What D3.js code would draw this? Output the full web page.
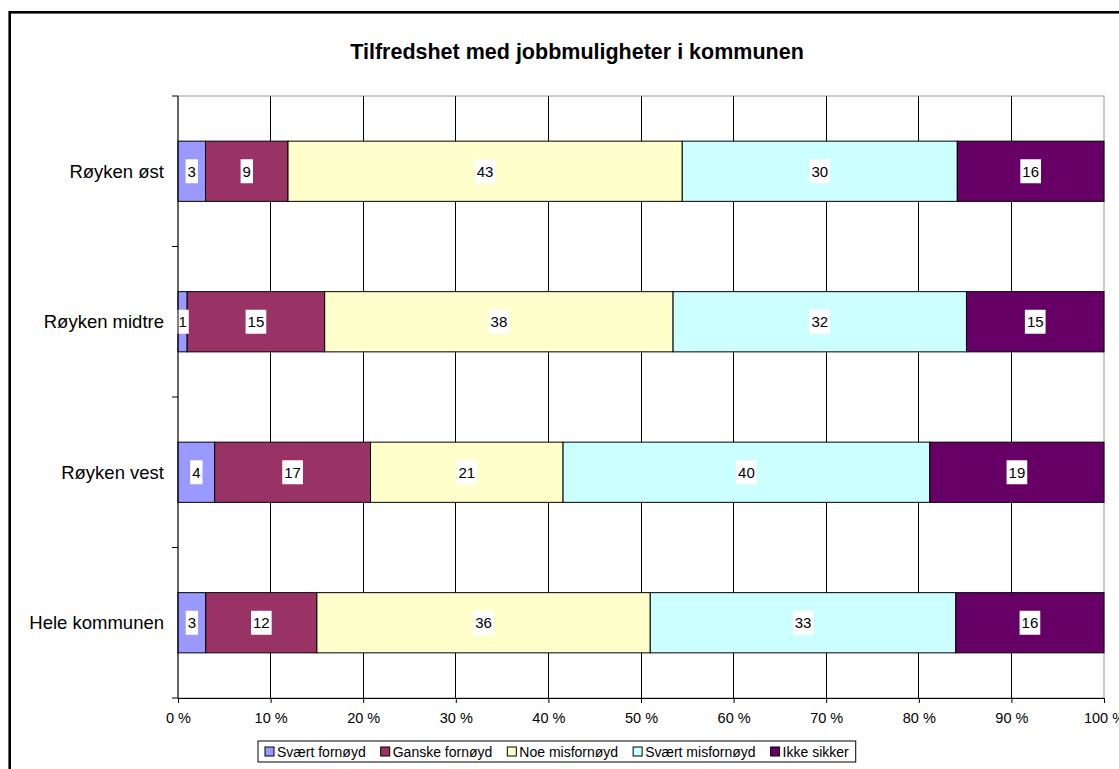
<!DOCTYPE html>
<html>
<head>
<meta charset="utf-8">
<script src="https://cdn.jsdelivr.net/npm/d3@7"></script>
<style>
  body { margin: 0; background: #fff; }
  text { font-family: Arial, "Liberation Sans", sans-serif; }
</style>
</head>
<body>
<svg width="1119" height="769"></svg>
<script>
// Data
const categories = ["Røyken øst", "Røyken midtre", "Røyken vest", "Hele kommunen"];
const seriesNames = ["Svært fornøyd", "Ganske fornøyd", "Noe misfornøyd", "Svært misfornøyd", "Ikke sikker"];
const seriesColors = ["#9999FF", "#993366", "#FFFFCC", "#CCFFFF", "#660066"];
const svaertFornoyd = [3, 1, 4, 3];
const ganskeFornoyd = [9, 15, 17, 12];
const noeMisfornoyd = [43, 38, 21, 36];
const svaertMisfornoyd = [30, 32, 40, 33];
const ikkeSikker = [16, 15, 19, 16];
const xTicks = [0, 0.1, 0.2, 0.3, 0.4, 0.5, 0.6, 0.7, 0.8, 0.9, 1];

const values = [svaertFornoyd, ganskeFornoyd, noeMisfornoyd, svaertMisfornoyd, ikkeSikker];

// Layout
const m = { top: 96, right: 15, bottom: 71, left: 178 };
const W = 1119, H = 769;
const w = W - m.left - m.right;
const h = H - m.top - m.bottom;

var svg = d3.select("svg");

// outer frame (runs off the right/bottom edge like the original)
svg.append("rect")
  .attr("x", 9.7).attr("y", 12.3)
  .attr("width", 1130).attr("height", 780)
  .attr("fill", "none").attr("stroke", "#000").attr("stroke-width", 2.6);

svg.append("text")
  .attr("x", 577).attr("y", 59)
  .attr("text-anchor", "middle")
  .attr("font-size", 21.5).attr("font-weight", "bold")
  .text("Tilfredshet med jobbmuligheter i kommunen");

var g = svg.append("g").attr("transform", `translate(${m.left},${m.top})`);

var x = d3.scaleLinear().domain([0, 1]).range([0, w]);
var y = d3.scaleBand().domain(categories).range([0, h])
  .paddingInner(0.6).paddingOuter(0.3);

// plot border (grey)
g.append("rect")
  .attr("width", w).attr("height", h)
  .attr("fill", "none").attr("stroke", "#999");

// gridlines
g.selectAll(".grid")
  .data(xTicks.slice(1, -1))
  .enter().append("line")
  .attr("x1", d => x(d)).attr("x2", d => x(d))
  .attr("y1", 0).attr("y2", h)
  .attr("stroke", "#000").attr("stroke-width", 1)
  .attr("shape-rendering", "crispEdges");

// stacked, normalised to 100 %
var rows = categories.map((c, i) => {
  var o = { cat: c };
  seriesNames.forEach((s, j) => o[s] = values[j][i]);
  return o;
});
var stack = d3.stack().keys(seriesNames).offset(d3.stackOffsetExpand);
var stacked = stack(rows);

var layers = g.selectAll(".layer")
  .data(stacked)
  .enter().append("g")
  .attr("fill", (d, i) => seriesColors[i]);

layers.selectAll("rect")
  .data(d => d)
  .enter().append("rect")
  .attr("x", d => x(d[0]))
  .attr("y", d => y(d.data.cat))
  .attr("width", d => x(d[1]) - x(d[0]))
  .attr("height", y.bandwidth())
  .attr("stroke", "#000").attr("stroke-width", 1);

// value labels with white boxes
stacked.forEach((layer, j) => {
  layer.forEach(d => {
    var cx = (x(d[0]) + x(d[1])) / 2;
    var cy = y(d.data.cat) + y.bandwidth() / 2;
    var lg = g.append("g");
    var t = lg.append("text")
      .attr("x", cx).attr("y", cy + 5.5)
      .attr("text-anchor", "middle")
      .attr("font-size", 15)
      .text(d.data[layer.key]);
    var bb = t.node().getBBox();
    lg.insert("rect", "text")
      .attr("x", bb.x - 2).attr("y", cy - 12)
      .attr("width", bb.width + 4).attr("height", 24)
      .attr("fill", "#fff");
  });
});

// x axis
var xAxis = g.append("g")
  .attr("transform", `translate(0,${h})`)
  .call(d3.axisBottom(x).tickValues(xTicks)
    .tickFormat(d => Math.round(d * 100) + " %")
    .tickSize(5).tickSizeOuter(0));
xAxis.select(".domain").attr("stroke", "#000");
xAxis.selectAll("text")
  .attr("font-size", 14.5).attr("y", 25).attr("dy", 0);

// left axis: ticks at category boundaries
var yTicks = d3.range(categories.length + 1).map(i => i * y.step());
g.append("line")
  .attr("x1", 0).attr("x2", 0).attr("y1", 0).attr("y2", h)
  .attr("stroke", "#000");
g.selectAll(".ytick")
  .data(yTicks)
  .enter().append("line")
  .attr("x1", -6).attr("x2", 0)
  .attr("y1", d => d).attr("y2", d => d)
  .attr("stroke", "#000");
g.selectAll(".ylab")
  .data(categories)
  .enter().append("text")
  .attr("x", -14)
  .attr("y", d => y(d) + y.bandwidth() / 2 + 6.5)
  .attr("text-anchor", "end")
  .attr("font-size", 18.5)
  .text(d => d);

// legend
var leg = svg.append("g");
var lx = 265, ly = 751.5;
seriesNames.forEach((s, i) => {
  leg.append("rect")
    .attr("x", lx).attr("y", ly - 4.5)
    .attr("width", 9).attr("height", 9)
    .attr("fill", seriesColors[i]).attr("stroke", "#000");
  var t = leg.append("text")
    .attr("x", lx + 12).attr("y", ly + 5)
    .attr("font-size", 14)
    .text(s);
  lx += 12 + t.node().getComputedTextLength() + 15;
});
leg.insert("rect", ":first-child")
  .attr("x", 258).attr("y", 741)
  .attr("width", lx - 258 - 8).attr("height", 21)
  .attr("fill", "#fff").attr("stroke", "#000");
</script>
</body>
</html>
